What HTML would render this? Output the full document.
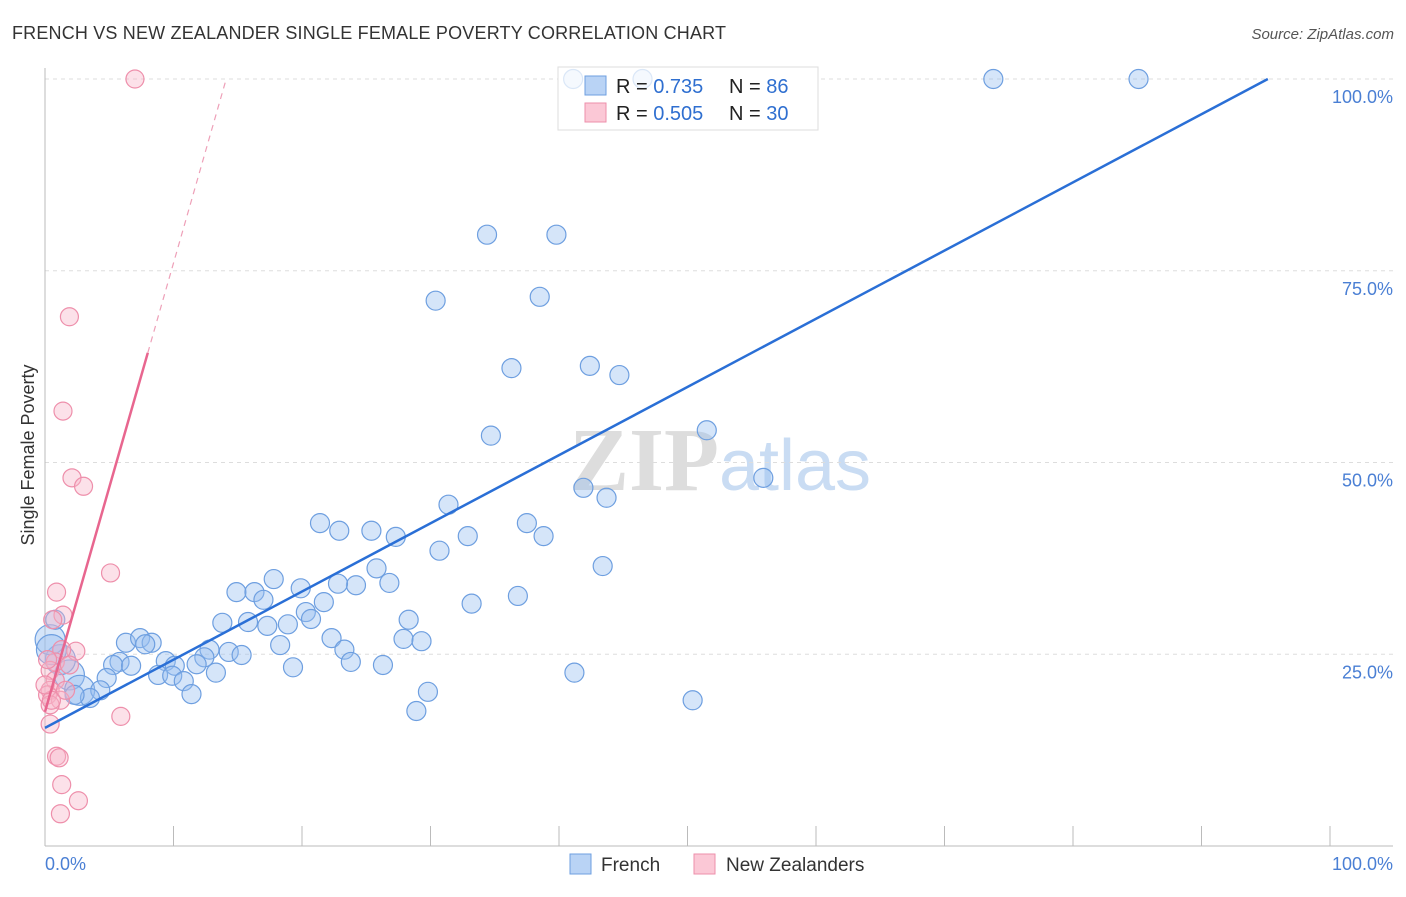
<!DOCTYPE html>
<html><head><meta charset="utf-8"><style>
body{margin:0;background:#fff;font-family:"Liberation Sans",sans-serif;}
</style></head><body>
<svg width="1406" height="892" xmlns="http://www.w3.org/2000/svg" font-family="Liberation Sans, sans-serif">
<text x="12" y="39" font-size="18" fill="#333" textLength="714">FRENCH VS NEW ZEALANDER SINGLE FEMALE POVERTY CORRELATION CHART</text>
<text x="1394" y="39" font-size="15" fill="#555" text-anchor="end" font-style="italic">Source: ZipAtlas.com</text>
<text x="720" y="490" font-size="90" text-anchor="middle"><tspan fill="#ddd" font-family="Liberation Serif, serif" font-weight="bold">ZIP</tspan><tspan fill="#c9dcf3" font-size="72">atlas</tspan></text>
<g id="grid"></g>
<g id="axes"></g>
<g>
<rect x="558" y="67" width="260" height="63" fill="#fff" stroke="#ddd"/>
</g>
<g id="marks"></g>
<g id="trends"></g>
<g>
<rect x="558" y="67" width="260" height="63" fill="rgba(255,255,255,0.75)" stroke="#ddd"/>
<rect x="585" y="76" width="21" height="19" fill="#b9d3f5" stroke="#6e9fe0"/>
<rect x="585" y="103" width="21" height="19" fill="#fbc8d6" stroke="#ee8fab"/>
<text x="616" y="93" font-size="20" fill="#222">R = <tspan fill="#2f6fd0">0.735</tspan><tspan x="729">N = </tspan><tspan fill="#2f6fd0">86</tspan></text>
<text x="616" y="120" font-size="20" fill="#222">R = <tspan fill="#2f6fd0">0.505</tspan><tspan x="729">N = </tspan><tspan fill="#2f6fd0">30</tspan></text>
</g>
<text transform="translate(34,455) rotate(-90)" font-size="18" fill="#333" text-anchor="middle">Single Female Poverty</text>
<text x="45" y="870" font-size="18" fill="#4a7fd4">0.0%</text>
<text x="1393" y="870" font-size="18" fill="#4a7fd4" text-anchor="end">100.0%</text>
<g>
<rect x="570" y="854" width="21" height="20" fill="#b9d3f5" stroke="#6e9fe0"/>
<text x="601" y="871" font-size="19" fill="#333">French</text>
<rect x="694" y="854" width="21" height="20" fill="#fbc8d6" stroke="#ee8fab"/>
<text x="726" y="871" font-size="19" fill="#333">New Zealanders</text>
</g>
</svg>
<script>
const yTicks=[25,50,75,100];
const yTickLabels=["25.0%","50.0%","75.0%","100.0%"];
const xTicks=[0,10,20,30,40,50,60,70,80,90,100];
const frenchX=[41.1,46.5,73.8,85.1,34.4,39.8,30.4,38.5,36.3,42.4,44.7,34.7,51.5,55.9,41.9,43.7,31.4,21.4,22.9,25.4,27.3,32.9,37.5,38.8,30.7,25.8,43.4,26.8,24.2,22.8,17.8,14.9,16.3,17.0,19.9,21.7,33.2,36.8,20.3,20.7,28.3,13.8,15.8,17.3,18.9,22.3,27.9,29.3,18.3,6.3,7.4,8.3,7.8,23.3,12.8,14.3,15.3,12.4,5.8,5.3,6.7,9.4,10.1,11.8,23.8,26.3,19.3,8.8,9.9,13.3,10.8,4.8,41.2,11.4,29.8,28.9,50.4,1.9,1.2,0.4,2.7,4.3,3.5,0.8,0.5,2.3];
const frenchY=[100,100,100,100,79.7,79.7,71.1,71.6,62.3,62.6,61.4,53.5,54.2,48.0,46.7,45.4,44.5,42.1,41.1,41.1,40.3,40.4,42.1,40.4,38.5,36.2,36.5,34.3,34.0,34.2,34.8,33.1,33.1,32.1,33.6,31.8,31.6,32.6,30.5,29.6,29.5,29.1,29.2,28.7,28.9,27.1,27.0,26.7,26.2,26.5,27.1,26.5,26.3,25.6,25.6,25.3,24.9,24.6,24.0,23.6,23.5,24.1,23.5,23.7,24.0,23.6,23.3,22.3,22.2,22.6,21.5,21.9,22.6,19.8,20.1,17.6,19.0,22.3,24.3,26.9,20.3,20.3,19.3,29.5,25.6,19.7];
const frenchBig=[0,0,0,0,0,0,0,0,0,0,0,0,0,0,0,0,0,0,0,0,0,0,0,0,0,0,0,0,0,0,0,0,0,0,0,0,0,0,0,0,0,0,0,0,0,0,0,0,0,0,0,0,0,0,0,0,0,0,0,0,0,0,0,0,0,0,0,0,0,0,0,0,0,0,0,0,0,1,1,1,1,0,0,0,1,0];
const nzX=[7.0,1.9,1.4,2.1,3.0,5.1,0.9,1.4,0.6,2.4,1.3,0.8,0.4,0.8,0.4,0.2,1.2,0.4,5.9,0.4,0.9,1.1,1.3,2.6,1.2,0.5,1.6,0.2,1.9,0.0];
const nzY=[100,69.0,56.7,48.0,46.9,35.6,33.1,30.1,29.5,25.4,25.6,24.0,22.9,21.6,20.3,19.7,19.0,18.4,16.9,15.9,11.7,11.5,8.0,5.9,4.2,19.0,20.3,24.3,23.6,21.0];
const frenchTrend=[15.4,0.889];
const nzTrend=[17.5,5.85];
const X0=45,X1=1330,Y0=846,Y1=79;
const sx=v=>X0+(X1-X0)*v/100, sy=v=>Y0-(Y0-Y1)*v/100;
const NS="http://www.w3.org/2000/svg";
function mk(tag,attrs,parent){const e=document.createElementNS(NS,tag);for(const k in attrs)e.setAttribute(k,attrs[k]);document.getElementById(parent).appendChild(e);return e;}
yTicks.forEach((t,i)=>{
 const l=mk('line',{x1:X0,x2:1393,y1:sy(t),y2:sy(t),stroke:'#ddd','stroke-dasharray':'4,4'},'grid');
 
 
 const tx=mk('text',{x:1393,y:sy(t)+24,'font-size':18,fill:'#4a7fd4','text-anchor':'end'},'grid');
 tx.textContent=yTickLabels[i];
 
 
});
const ya=mk('line',{x1:X0,x2:X0,y1:68,y2:846,stroke:'#bbb'},'axes');


const xa=mk('line',{x1:X0,x2:1393,y1:846,y2:846,stroke:'#bbb'},'axes');


xTicks.forEach(t=>{
 const l=mk('line',{x1:sx(t),x2:sx(t),y1:826,y2:846,stroke:'#bbb'},'axes');
 
 
});
frenchX.forEach((x,i)=>{
 const c=mk('circle',{cx:sx(x),cy:sy(frenchY[i]),r:frenchBig[i]?15:9.5,fill:'rgba(150,190,240,0.4)',stroke:'#6e9fe0','stroke-width':1.2},'marks');
 
 
});
nzX.forEach((x,i)=>{
 const c=mk('circle',{cx:sx(x),cy:sy(nzY[i]),r:9,fill:'rgba(248,180,200,0.4)',stroke:'#ee8fab','stroke-width':1.2},'marks');
 
 
});
const fxEnd=(100-frenchTrend[0])/frenchTrend[1];
const fl=mk('line',{x1:sx(0),y1:sy(frenchTrend[0]),x2:sx(fxEnd),y2:sy(100),stroke:'#2a6fd6','stroke-width':2.5},'trends');


const nzSolidEnd=8.0, nzEnd=(100-nzTrend[0])/nzTrend[1];
const nl=mk('line',{x1:sx(0),y1:sy(nzTrend[0]),x2:sx(nzSolidEnd),y2:sy(nzTrend[0]+nzTrend[1]*nzSolidEnd),stroke:'#e8668f','stroke-width':2.5},'trends');


const nd=mk('line',{x1:sx(nzSolidEnd),y1:sy(nzTrend[0]+nzTrend[1]*nzSolidEnd),x2:sx(nzEnd),y2:sy(100),stroke:'#eea0b8','stroke-width':1.2,'stroke-dasharray':'6,5'},'trends');


</script>
</body></html>
